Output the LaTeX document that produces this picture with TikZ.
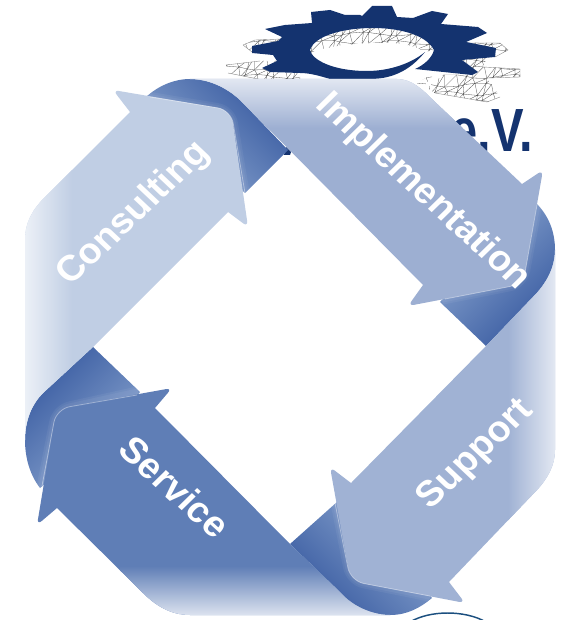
\documentclass[tikz,border=0pt]{standalone}
\usepackage{fontspec}
\setmainfont{Liberation Sans}
\definecolor{logoblue}{HTML}{14336F}
\definecolor{ringteal}{HTML}{1B4F7F}
\definecolor{consultc}{HTML}{C0CEE4}
\definecolor{implc}{HTML}{9DAFD2}
\definecolor{suppc}{HTML}{A0B2D4}
\definecolor{servc}{HTML}{5F7EB6}
\definecolor{foldL}{HTML}{7390C2}
\definecolor{foldD}{HTML}{4768A9}
\pgfdeclarehorizontalshading{foldshade}{100bp}{color(0bp)=(foldL); color(41bp)=(foldL); color(59bp)=(foldD); color(100bp)=(foldD)}
\tikzset{
  labeltext/.style={text=white,font=\bfseries\fontsize{27}{30}\selectfont,inner sep=0pt,xscale=1.06},
  rim/.style={draw=white,draw opacity=.4,line width=.6pt},
  band/.style={draw=white,draw opacity=.05,line width=7pt},
  bandb/.style={draw=white,draw opacity=.05,line width=4pt},
}
\def\rb{4.5pt}
\def\ra{10pt}
\def\pConsult{(130,112) [rounded corners=\rb] -- (113,90) [rounded corners=\ra] -- (231,110) [rounded corners=\rb] -- (248,227) [sharp corners] -- (228,212) -- (93,347) -- (43,393) .. controls (32,404) and (25,420) .. (25,440) -- (25,240) .. controls (25,222) and (33,209) .. (45,197) -- cycle}
\def\pImpl{(522,184) [rounded corners=\rb] -- (543,170) [rounded corners=\ra] -- (523,284) [rounded corners=\rb] -- (408,306) [sharp corners] -- (423,285) -- (240,100) .. controls (226,87) and (208,79) .. (190,79) -- (397,79) .. controls (412,79) and (423,90) .. (433,100) -- cycle}
\def\pSupp{(351,483) [rounded corners=\rb] -- (330,467) [rounded corners=\ra] -- (350.5,581) [rounded corners=\rb] -- (465,603) [sharp corners] -- (449,582) -- (537,490) .. controls (548,478) and (555,465) .. (555,450) -- (555,250) .. controls (555,268) and (546,284) .. (533,297) -- (486,346) -- cycle}
\def\pServ{(57,508) [rounded corners=\rb] -- (37,525) [rounded corners=\ra] -- (56.4,409) [rounded corners=\rb] -- (172,388) [sharp corners] -- (155,408) -- (290,544) -- (340,592) .. controls (352,606) and (372,615) .. (390,615) -- (190,615) .. controls (170,615) and (155,605) .. (143,593) -- cycle}
\begin{document}
\begin{tikzpicture}[x=.75pt,y=-.75pt]
\useasboundingbox (0,0) rectangle (564,620);
% logo mesh
\begin{scope}
\clip (226,65) -- (260,61) -- (277,61) -- (262,68) -- (270,72) -- (300,73) -- (300,80) -- (263,80) -- (228,73) -- cycle
 (243,45) -- (255,40) -- (282,39) -- (278,41) -- (252,46) -- (252,52) -- cycle
 (434,50) .. controls (425,33) and (395,28) .. (373,28) .. controls (345,28) and (315,35) .. (310,50) -- (311,53) .. controls (320,48) and (345,44) .. (370,43) .. controls (390,42) and (412,43) .. (425,52) -- cycle
 (466,43) -- (500,43) -- (508,50) -- (495,57) -- cycle
 (462,60) -- (487,57) -- (483,67) -- (520,69) -- (520,77) -- (487,78) -- (500,97) -- (487,102) -- (435,93) -- (427,88) -- (443,75) -- (472,75) -- (478,72) -- cycle
 (417,83) -- (435,73) -- (423,87) -- cycle
 (441,24) -- (458,28) -- (445,28) -- cycle;
\foreach \i in {24,...,58}{\foreach \j in {2,...,12}{
  \pgfmathsetmacro\xa{\i*9.5+2.5*sin(\i*137+\j*71)}
  \pgfmathsetmacro\ya{\j*8.5+2*sin(\i*53+\j*191)}
  \pgfmathsetmacro\xb{(\i+1)*9.5+2.5*sin((\i+1)*137+\j*71)}
  \pgfmathsetmacro\yb{\j*8.5+2*sin((\i+1)*53+\j*191)}
  \pgfmathsetmacro\xc{\i*9.5+2.5*sin(\i*137+(\j+1)*71)}
  \pgfmathsetmacro\yc{(\j+1)*8.5+2*sin(\i*53+(\j+1)*191)}
  \draw[black!70,line width=.22pt] (\xc,\yc) -- (\xa,\ya) -- (\xb,\yb) -- cycle;
}}
\end{scope}
\draw[black!45,line width=.3pt] (226,65) -- (260,61) (228,73) -- (263,80) (243,45) -- (255,40) -- (282,39) (243,45) -- (252,52) (466,43) -- (500,43) -- (508,50) -- (495,57) (483,67) -- (520,69) -- (520,77) -- (487,78) (500,97) -- (487,102) -- (435,93);
% logo gear
\fill[logoblue] (362,16) -- (372,6) -- (392,6) -- (397,17) -- (413,18) -- (432,11) -- (448,14) -- (441,24) -- (478,27) -- (487,33) -- (466,42) -- (496,48) -- (495,57) -- (462,60) -- (478,72) -- (472,75) -- (415,69)
 .. controls (424,65) and (432,58) .. (434,50) .. controls (425,33) and (395,28) .. (373,28) .. controls (345,28) and (315,35) .. (310,50) .. controls (312,60) and (333,71) .. (367,71) .. controls (390,71) and (412,63) .. (425,52) .. controls (412,68) and (395,79) .. (370,79) -- (330,79) .. controls (320,76) and (310,73) .. (300,73) -- (270,72) -- (262,68) -- (277,61) -- (273,55) -- (252,53) -- (252,46) -- (278,41) -- (282,37) -- (265,29) -- (285,25) -- (312,23) -- (311,12) -- (330,10) -- (345,15) -- (360,15) -- cycle;
\node[anchor=base east,inner sep=0pt,xscale=.8,text=logoblue,font=\bfseries\fontsize{45.75}{48}\selectfont] (ev) at (533,152) {e.V.};
\fill[logoblue] (286,147) -- (291,152) -- (290,155) -- (284,155) -- cycle;
\draw[ringteal,line width=1.1pt] (410,622) .. controls (430,610) and (465,610) .. (486,622);
% folds
\begin{scope}
\clip (146,97) .. controls (158,86) and (174,79) .. (190,79) .. controls (208,79) and (226,87) .. (240,100) -- (288,150) -- (245,193) -- (200,150) -- cycle;
\shade[shading=foldshade,shading angle=45] (128,32) rectangle (308,212);
\end{scope}
\begin{scope}
\clip (536,203) .. controls (549,216) and (555,232) .. (555,250) .. controls (555,268) and (546,284) .. (533,297) -- (486,346) -- (440,302) -- (490,250) -- cycle;
\shade[shading=foldshade,shading angle=-45] (415,192) rectangle (595,372);
\end{scope}
\begin{scope}
\clip (337,502) -- (290,544) -- (340,592) .. controls (352,606) and (372,615) .. (390,615) .. controls (407,615) and (420,608) .. (432,598) -- (390,550) -- cycle;
\shade[shading=foldshade,shading angle=-135] (270,480) rectangle (450,660);
\end{scope}
\begin{scope}
\clip (93,347) -- (43,393) .. controls (32,404) and (25,420) .. (25,440) .. controls (25,458) and (30,475) .. (40,488) -- (100,440) -- (140,392) -- cycle;
\shade[shading=foldshade,shading angle=135] (-10,314) rectangle (170,494);
\end{scope}
% glow bands around the arrow heads
\path[band,rounded corners=\ra] (146,96) -- (231,110) -- (245,193);
\path[bandb,rounded corners=\ra] (146,96) -- (231,110) -- (245,193);
\path[band,rounded corners=\ra] (538,204) -- (523,284) -- (442,300);
\path[bandb,rounded corners=\ra] (538,204) -- (523,284) -- (442,300);
\path[band,rounded corners=\ra] (335,502) -- (350.5,581) -- (430,597);
\path[bandb,rounded corners=\ra] (335,502) -- (350.5,581) -- (430,597);
\path[band,rounded corners=\ra] (138,391) -- (56.4,409) -- (41,488);
\path[bandb,rounded corners=\ra] (138,391) -- (56.4,409) -- (41,488);
% arrows
\begin{scope}
\clip \pConsult;
\fill[consultc] (0,60) rectangle (300,460);
\shade[left color=consultc!30!white,right color=consultc] (25,80) rectangle (72,450);
\end{scope}
\begin{scope}
\clip \pImpl;
\fill[implc] (180,60) rectangle (560,320);
\shade[top color=implc!30!white,bottom color=implc] (180,79) rectangle (560,128);
\end{scope}
\begin{scope}
\clip \pSupp;
\fill[suppc] (320,240) rectangle (560,610);
\shade[left color=suppc,right color=suppc!30!white] (508,240) rectangle (555,610);
\end{scope}
\begin{scope}
\clip \pServ;
\fill[servc] (30,380) rectangle (400,620);
\shade[top color=servc,bottom color=servc!22!white] (120,566) rectangle (400,615);
\end{scope}
% rims
\path[rim,rounded corners=\ra] (150,97) -- (231,110) -- (245,193);
\path[rim,rounded corners=\ra] (537,205) -- (523,284) -- (445,299);
\path[rim,rounded corners=\ra] (335,503) -- (350.5,581) -- (430,596);
\path[rim,rounded corners=\ra] (137,395) -- (56.4,409) -- (42,486);
% labels
\node[labeltext,rotate=45] (consulting) at (134,214) {Consulting};
\node[labeltext,rotate=-44] (implementation) at (423,192) {Implementation};
\node[labeltext,rotate=45] (support) at (476,455) {Support};
\node[labeltext,rotate=-44] (service) at (175,487) {Service};
\end{tikzpicture}
\end{document}
